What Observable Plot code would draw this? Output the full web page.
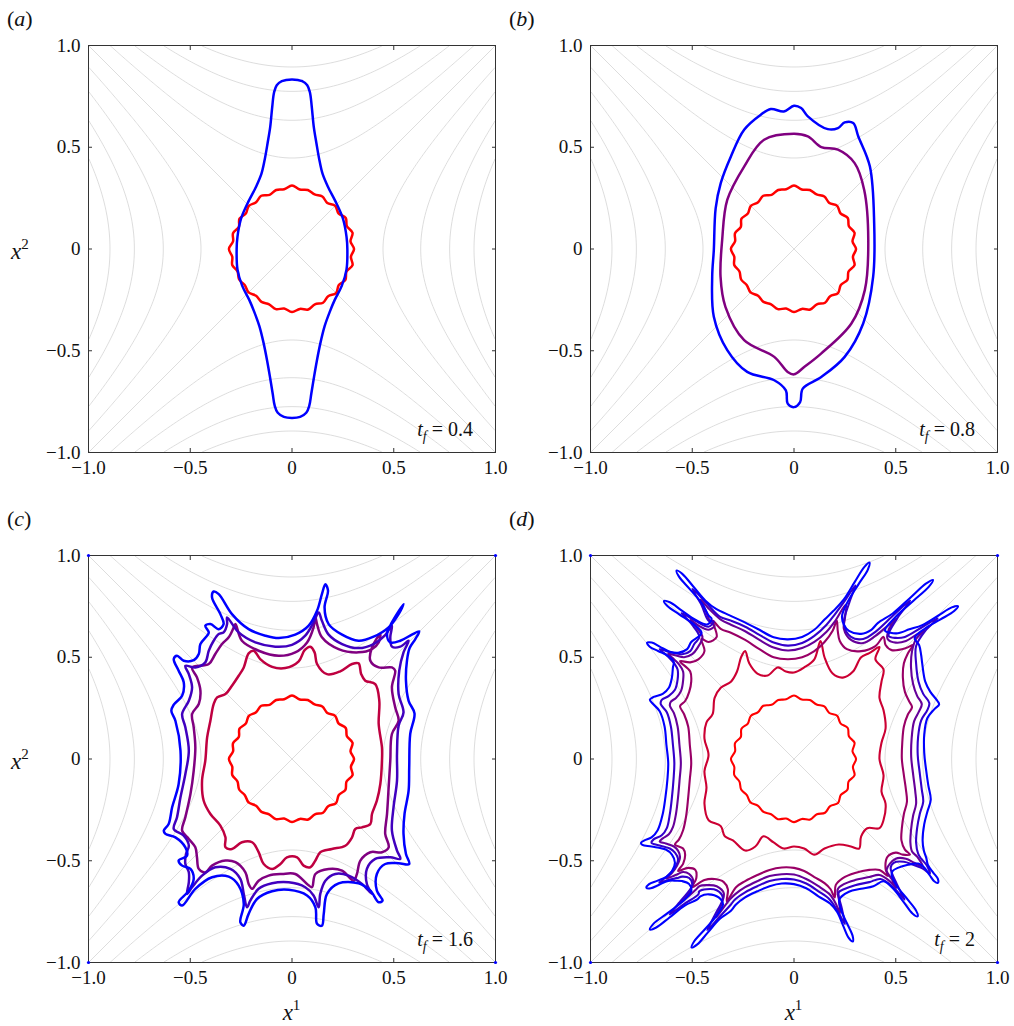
<!DOCTYPE html>
<html><head><meta charset="utf-8">
<script src="https://cdn.jsdelivr.net/npm/d3@7"></script>
<script src="https://cdn.jsdelivr.net/npm/@observablehq/plot@0.6"></script>
<style>
body{margin:0;background:#fff;}
#wrap{position:relative;width:1014px;height:1026px;overflow:hidden;}
#wrap svg{position:absolute;overflow:visible;}
#wrap svg, #wrap svg text{font-family:"Liberation Serif","Times New Roman",serif !important;}
</style></head><body><div id="wrap"></div>
<script>
// ---------- data ----------
const tickValues = [-1, -0.5, 0, 0.5, 1];
const tickLabels = ["−1.0", "−0.5", "0", "0.5", "1.0"];
const streamLevels = [-0.8, -0.6, -0.4, -0.2, 0, 0.2, 0.4, 0.6, 0.8];
const panelLetters = ["a", "b", "c", "d"];
const finalTimes = ["0.4", "0.8", "1.6", "2"];
const frameCorners = [[-1, 1], [1, 1], [-1, -1], [1, -1]];

// initial (red) contour, polar form: angle (deg) and radius
const redAngles = [0,7.5,15,22.5,30,37.5,45,52.5,60,67.5,75,82.5,90,97.5,105,112.5,120,127.5,135,142.5,150,157.5,165,172.5,180,187.5,195,202.5,210,217.5,225,232.5,240,247.5,255,262.5,270,277.5,285,292.5,300,307.5,315,322.5,330,337.5,345,352.5];
const redRadii = [0.305,0.290,0.308,0.292,0.305,0.288,0.300,0.285,0.298,0.290,0.300,0.295,0.312,0.296,0.300,0.288,0.302,0.290,0.300,0.286,0.298,0.283,0.300,0.292,0.310,0.296,0.304,0.290,0.300,0.292,0.302,0.290,0.300,0.294,0.306,0.295,0.310,0.297,0.308,0.294,0.305,0.292,0.306,0.290,0.303,0.290,0.308,0.292];

// panel (a), t = 0.4
const blueA = [[0,0.833],[0.05,0.825],[0.075,0.805],[0.088,0.77],[0.097,0.70],[0.107,0.60],[0.120,0.52],[0.134,0.44],[0.150,0.37],[0.176,0.307],[0.218,0.225],[0.250,0.15],[0.268,0.06],[0.272,0.0],[0.268,-0.10],[0.245,-0.18],[0.210,-0.25],[0.185,-0.31],[0.160,-0.38],[0.140,-0.46],[0.122,-0.55],[0.108,-0.63],[0.095,-0.71],[0.085,-0.77],[0.07,-0.805],[0.04,-0.825],[0,-0.83],[-0.04,-0.825],[-0.07,-0.805],[-0.085,-0.77],[-0.095,-0.71],[-0.108,-0.63],[-0.122,-0.55],[-0.140,-0.46],[-0.160,-0.38],[-0.185,-0.31],[-0.210,-0.25],[-0.245,-0.18],[-0.268,-0.10],[-0.272,0.0],[-0.268,0.06],[-0.250,0.15],[-0.218,0.225],[-0.176,0.307],[-0.150,0.37],[-0.134,0.44],[-0.120,0.52],[-0.107,0.60],[-0.097,0.70],[-0.088,0.77],[-0.075,0.805],[-0.05,0.825]];

// panel (b), t = 0.4 and 0.8
const purpleB = [[0,0.566],[-0.147,0.537],[-0.245,0.405],[-0.328,0.241],[-0.353,0.044],[-0.361,-0.136],[-0.337,-0.284],[-0.245,-0.448],[-0.097,-0.53],[-0.031,-0.604],[0,-0.616],[0.05,-0.58],[0.133,-0.514],[0.282,-0.366],[0.348,-0.202],[0.365,0.044],[0.345,0.29],[0.298,0.422],[0.216,0.488],[0.134,0.501],[0.068,0.553]];
const blueB = [[0,0.704],[-0.05,0.676],[-0.114,0.688],[-0.163,0.66],[-0.245,0.586],[-0.31,0.455],[-0.36,0.324],[-0.385,0.2],[-0.394,-0.005],[-0.402,-0.136],[-0.394,-0.333],[-0.328,-0.497],[-0.23,-0.604],[-0.097,-0.645],[-0.04,-0.695],[-0.031,-0.76],[0,-0.777],[0.03,-0.752],[0.043,-0.686],[0.134,-0.629],[0.249,-0.53],[0.34,-0.366],[0.389,-0.136],[0.394,0.126],[0.373,0.405],[0.316,0.553],[0.291,0.619],[0.249,0.622],[0.216,0.594],[0.166,0.589],[0.068,0.652],[0.035,0.693]];

// panel (c), t = 0.4, 0.8, 1.2, 1.6
const c1 = [[-0.237,0.450],[-0.213,0.519],[-0.188,0.532],[-0.156,0.491],[-0.098,0.453],[-0.033,0.447],[0.033,0.480],[0.062,0.535],[0.090,0.552],[0.111,0.524],[0.123,0.467],[0.172,0.417],[0.237,0.431],[0.295,0.467],[0.327,0.470],[0.340,0.417],[0.360,0.385],[0.409,0.368],[0.429,0.286],[0.426,0.172],[0.442,0.057],[0.442,-0.008],[0.434,-0.123],[0.417,-0.205],[0.393,-0.270],[0.385,-0.319],[0.344,-0.336],[0.311,-0.344],[0.295,-0.385],[0.262,-0.426],[0.196,-0.442],[0.139,-0.458],[0.115,-0.499],[0.090,-0.532],[0.057,-0.524],[0.025,-0.483],[-0.025,-0.483],[-0.057,-0.516],[-0.098,-0.540],[-0.139,-0.516],[-0.164,-0.458],[-0.196,-0.409],[-0.246,-0.409],[-0.295,-0.442],[-0.327,-0.434],[-0.327,-0.385],[-0.352,-0.327],[-0.401,-0.270],[-0.434,-0.205],[-0.442,-0.106],[-0.426,-0.008],[-0.417,0.106],[-0.401,0.188],[-0.385,0.270],[-0.368,0.303],[-0.327,0.319],[-0.295,0.360],[-0.262,0.409]];
const c2 = [[-0.278,0.663],[-0.246,0.581],[-0.164,0.532],[-0.065,0.507],[0.016,0.524],[0.074,0.573],[0.106,0.647],[0.115,0.696],[0.123,0.663],[0.147,0.598],[0.229,0.540],[0.327,0.524],[0.393,0.540],[0.426,0.573],[0.434,0.614],[0.393,0.548],[0.385,0.483],[0.426,0.450],[0.491,0.450],[0.507,0.434],[0.491,0.352],[0.507,0.254],[0.524,0.188],[0.491,0.123],[0.483,-0.008],[0.475,-0.139],[0.467,-0.270],[0.458,-0.368],[0.475,-0.434],[0.442,-0.458],[0.385,-0.458],[0.336,-0.499],[0.319,-0.565],[0.303,-0.598],[0.246,-0.548],[0.180,-0.540],[0.115,-0.565],[0.098,-0.630],[0.074,-0.614],[0.016,-0.565],[-0.049,-0.565],[-0.115,-0.573],[-0.164,-0.598],[-0.196,-0.638],[-0.213,-0.614],[-0.229,-0.557],[-0.278,-0.507],[-0.327,-0.499],[-0.393,-0.524],[-0.426,-0.557],[-0.458,-0.540],[-0.467,-0.483],[-0.475,-0.434],[-0.507,-0.393],[-0.540,-0.352],[-0.524,-0.286],[-0.499,-0.172],[-0.483,-0.057],[-0.475,0.057],[-0.483,0.156],[-0.491,0.221],[-0.458,0.270],[-0.450,0.336],[-0.467,0.401],[-0.491,0.450],[-0.409,0.467],[-0.377,0.516],[-0.344,0.565],[-0.311,0.598],[-0.286,0.647]];
const c3 = [[0.000,0.561],[0.065,0.606],[0.106,0.671],[0.131,0.720],[0.147,0.679],[0.180,0.611],[0.246,0.565],[0.327,0.545],[0.401,0.565],[0.458,0.609],[0.491,0.655],[0.483,0.598],[0.491,0.552],[0.532,0.552],[0.573,0.581],[0.548,0.524],[0.527,0.434],[0.524,0.319],[0.548,0.229],[0.524,0.164],[0.516,0.025],[0.516,-0.106],[0.499,-0.237],[0.491,-0.352],[0.516,-0.450],[0.532,-0.491],[0.483,-0.483],[0.409,-0.491],[0.368,-0.540],[0.368,-0.614],[0.393,-0.663],[0.344,-0.614],[0.278,-0.573],[0.213,-0.565],[0.164,-0.598],[0.139,-0.663],[0.131,-0.729],[0.106,-0.671],[0.065,-0.630],[-0.016,-0.606],[-0.098,-0.611],[-0.164,-0.638],[-0.205,-0.696],[-0.221,-0.729],[-0.237,-0.663],[-0.254,-0.589],[-0.303,-0.540],[-0.377,-0.532],[-0.442,-0.573],[-0.491,-0.630],[-0.516,-0.663],[-0.507,-0.606],[-0.507,-0.557],[-0.524,-0.516],[-0.521,-0.467],[-0.507,-0.426],[-0.532,-0.377],[-0.581,-0.344],[-0.565,-0.286],[-0.548,-0.188],[-0.524,-0.074],[-0.507,0.041],[-0.524,0.156],[-0.540,0.221],[-0.507,0.286],[-0.491,0.352],[-0.507,0.417],[-0.524,0.458],[-0.475,0.450],[-0.426,0.475],[-0.409,0.532],[-0.385,0.581],[-0.360,0.614],[-0.336,0.622],[-0.319,0.663],[-0.319,0.696],[-0.262,0.622],[-0.180,0.573],[-0.082,0.552]];
const c4 = [[0.164,0.859],[0.177,0.827],[0.160,0.745],[0.180,0.663],[0.246,0.611],[0.327,0.581],[0.401,0.601],[0.475,0.647],[0.524,0.712],[0.548,0.761],[0.491,0.671],[0.467,0.614],[0.483,0.573],[0.532,0.581],[0.589,0.611],[0.625,0.627],[0.606,0.589],[0.578,0.545],[0.565,0.483],[0.560,0.385],[0.573,0.286],[0.602,0.224],[0.581,0.123],[0.576,-0.041],[0.573,-0.156],[0.553,-0.270],[0.548,-0.368],[0.560,-0.467],[0.576,-0.516],[0.524,-0.512],[0.458,-0.516],[0.417,-0.565],[0.417,-0.647],[0.445,-0.696],[0.426,-0.704],[0.385,-0.647],[0.327,-0.611],[0.229,-0.611],[0.172,-0.663],[0.156,-0.761],[0.147,-0.819],[0.123,-0.810],[0.115,-0.729],[0.074,-0.671],[-0.016,-0.643],[-0.098,-0.650],[-0.172,-0.688],[-0.213,-0.761],[-0.237,-0.819],[-0.254,-0.802],[-0.237,-0.712],[-0.262,-0.622],[-0.311,-0.578],[-0.393,-0.581],[-0.475,-0.638],[-0.540,-0.720],[-0.557,-0.704],[-0.507,-0.647],[-0.483,-0.589],[-0.499,-0.540],[-0.540,-0.524],[-0.557,-0.499],[-0.516,-0.475],[-0.524,-0.434],[-0.573,-0.385],[-0.622,-0.368],[-0.630,-0.352],[-0.606,-0.319],[-0.589,-0.237],[-0.557,-0.123],[-0.548,0.041],[-0.573,0.188],[-0.593,0.237],[-0.581,0.267],[-0.540,0.311],[-0.532,0.377],[-0.557,0.434],[-0.581,0.491],[-0.565,0.507],[-0.532,0.483],[-0.483,0.486],[-0.458,0.516],[-0.450,0.565],[-0.417,0.606],[-0.409,0.622],[-0.426,0.655],[-0.401,0.663],[-0.360,0.638],[-0.336,0.663],[-0.352,0.712],[-0.393,0.794],[-0.385,0.823],[-0.360,0.810],[-0.295,0.712],[-0.213,0.638],[-0.131,0.606],[-0.065,0.594],[0.016,0.611],[0.082,0.655],[0.123,0.728],[0.147,0.810]];

// panel (d), t = 0.4, 0.8, 1.2, 1.6, 2.0
const d1 = [[0.0,0.425],[0.05,0.45],[0.10,0.49],[0.13,0.58],[0.15,0.50],[0.19,0.42],[0.24,0.40],[0.29,0.43],[0.33,0.50],[0.37,0.52],[0.42,0.55],[0.40,0.49],[0.44,0.44],[0.43,0.38],[0.42,0.30],[0.44,0.24],[0.45,0.15],[0.43,0.08],[0.42,0.00],[0.44,-0.08],[0.43,-0.16],[0.45,-0.22],[0.44,-0.30],[0.42,-0.34],[0.36,-0.34],[0.33,-0.38],[0.32,-0.44],[0.28,-0.43],[0.22,-0.42],[0.15,-0.44],[0.10,-0.47],[0.05,-0.44],[0.0,-0.43],[-0.05,-0.44],[-0.10,-0.41],[-0.15,-0.38],[-0.19,-0.43],[-0.24,-0.45],[-0.30,-0.40],[-0.34,-0.38],[-0.36,-0.33],[-0.42,-0.30],[-0.44,-0.22],[-0.43,-0.14],[-0.44,-0.06],[-0.42,0.02],[-0.44,0.10],[-0.43,0.18],[-0.40,0.22],[-0.39,0.30],[-0.36,0.35],[-0.31,0.38],[-0.28,0.43],[-0.26,0.50],[-0.24,0.53],[-0.22,0.47],[-0.18,0.42],[-0.13,0.41],[-0.08,0.45],[-0.04,0.43]];
const d2 = [[-0.10,0.50],[-0.03,0.49],[0.04,0.50],[0.10,0.53],[0.15,0.575],[0.19,0.63],[0.21,0.68],[0.215,0.63],[0.225,0.58],[0.26,0.54],[0.33,0.53],[0.40,0.555],[0.44,0.60],[0.45,0.56],[0.48,0.535],[0.55,0.545],[0.585,0.56],[0.56,0.52],[0.54,0.47],[0.535,0.40],[0.545,0.33],[0.565,0.285],[0.58,0.255],[0.56,0.22],[0.54,0.16],[0.532,0.08],[0.53,0.00],[0.54,-0.08],[0.55,-0.15],[0.555,-0.21],[0.54,-0.27],[0.53,-0.34],[0.528,-0.40],[0.545,-0.445],[0.57,-0.47],[0.535,-0.47],[0.50,-0.46],[0.46,-0.48],[0.45,-0.54],[0.462,-0.575],[0.42,-0.545],[0.37,-0.545],[0.30,-0.56],[0.24,-0.585],[0.205,-0.62],[0.20,-0.68],[0.18,-0.64],[0.15,-0.61],[0.10,-0.58],[0.05,-0.55],[0.00,-0.535],[-0.06,-0.533],[-0.12,-0.545],[-0.18,-0.57],[-0.24,-0.60],[-0.285,-0.63],[-0.33,-0.70],[-0.325,-0.64],[-0.345,-0.605],[-0.39,-0.59],[-0.44,-0.595],[-0.50,-0.63],[-0.48,-0.585],[-0.485,-0.545],[-0.52,-0.535],[-0.57,-0.55],[-0.545,-0.515],[-0.535,-0.47],[-0.545,-0.44],[-0.585,-0.42],[-0.565,-0.395],[-0.545,-0.35],[-0.53,-0.28],[-0.52,-0.19],[-0.512,-0.10],[-0.505,-0.02],[-0.512,0.07],[-0.52,0.16],[-0.54,0.22],[-0.56,0.26],[-0.535,0.285],[-0.515,0.33],[-0.505,0.38],[-0.51,0.43],[-0.56,0.48],[-0.51,0.475],[-0.47,0.49],[-0.44,0.53],[-0.455,0.59],[-0.42,0.575],[-0.38,0.60],[-0.40,0.68],[-0.36,0.64],[-0.31,0.62],[-0.24,0.585],[-0.17,0.54]];
const d3c = [[-0.10,0.548],[-0.03,0.533],[0.04,0.545],[0.10,0.575],[0.16,0.625],[0.20,0.675],[0.255,0.758],[0.25,0.69],[0.245,0.64],[0.28,0.585],[0.34,0.57],[0.40,0.605],[0.455,0.65],[0.50,0.688],[0.465,0.635],[0.46,0.59],[0.50,0.572],[0.55,0.58],[0.60,0.61],[0.642,0.632],[0.60,0.59],[0.58,0.53],[0.575,0.45],[0.585,0.37],[0.605,0.31],[0.628,0.27],[0.615,0.235],[0.59,0.185],[0.578,0.10],[0.576,0.01],[0.586,-0.08],[0.596,-0.16],[0.600,-0.22],[0.585,-0.28],[0.575,-0.35],[0.572,-0.41],[0.58,-0.455],[0.605,-0.48],[0.632,-0.528],[0.59,-0.51],[0.55,-0.49],[0.50,-0.49],[0.455,-0.545],[0.48,-0.59],[0.503,-0.633],[0.47,-0.60],[0.42,-0.57],[0.37,-0.58],[0.30,-0.595],[0.245,-0.615],[0.215,-0.64],[0.222,-0.70],[0.226,-0.758],[0.205,-0.71],[0.175,-0.665],[0.12,-0.625],[0.06,-0.59],[0.00,-0.568],[-0.06,-0.566],[-0.12,-0.575],[-0.18,-0.60],[-0.24,-0.63],[-0.29,-0.665],[-0.315,-0.69],[-0.35,-0.735],[-0.383,-0.778],[-0.365,-0.735],[-0.345,-0.66],[-0.38,-0.625],[-0.43,-0.62],[-0.465,-0.625],[-0.48,-0.64],[-0.52,-0.675],[-0.563,-0.712],[-0.525,-0.67],[-0.495,-0.60],[-0.515,-0.565],[-0.545,-0.555],[-0.57,-0.565],[-0.60,-0.578],[-0.628,-0.587],[-0.60,-0.56],[-0.575,-0.525],[-0.56,-0.48],[-0.57,-0.45],[-0.59,-0.43],[-0.63,-0.415],[-0.66,-0.405],[-0.645,-0.39],[-0.615,-0.37],[-0.595,-0.335],[-0.58,-0.27],[-0.57,-0.19],[-0.562,-0.10],[-0.556,-0.02],[-0.563,0.07],[-0.572,0.16],[-0.59,0.225],[-0.61,0.262],[-0.605,0.282],[-0.58,0.30],[-0.555,0.335],[-0.545,0.385],[-0.545,0.43],[-0.565,0.465],[-0.59,0.49],[-0.618,0.517],[-0.585,0.51],[-0.54,0.50],[-0.50,0.515],[-0.475,0.545],[-0.45,0.60],[-0.475,0.64],[-0.508,0.683],[-0.468,0.655],[-0.42,0.635],[-0.39,0.655],[-0.41,0.67],[-0.43,0.72],[-0.458,0.783],[-0.42,0.74],[-0.36,0.685],[-0.31,0.66],[-0.24,0.628],[-0.17,0.585]];
const d4 = [[-0.10,0.572],[-0.03,0.557],[0.04,0.57],[0.10,0.605],[0.16,0.66],[0.20,0.71],[0.252,0.781],[0.302,0.853],[0.272,0.769],[0.245,0.665],[0.28,0.60],[0.34,0.59],[0.40,0.625],[0.491,0.709],[0.571,0.778],[0.507,0.691],[0.465,0.605],[0.50,0.595],[0.545,0.60],[0.633,0.65],[0.706,0.691],[0.645,0.63],[0.60,0.555],[0.60,0.47],[0.612,0.38],[0.635,0.32],[0.665,0.275],[0.655,0.24],[0.625,0.19],[0.61,0.11],[0.608,0.02],[0.618,-0.07],[0.628,-0.15],[0.635,-0.21],[0.618,-0.27],[0.605,-0.34],[0.600,-0.41],[0.61,-0.465],[0.625,-0.49],[0.652,-0.522],[0.667,-0.563],[0.635,-0.54],[0.585,-0.52],[0.54,-0.505],[0.49,-0.51],[0.475,-0.535],[0.506,-0.616],[0.543,-0.691],[0.488,-0.630],[0.425,-0.59],[0.37,-0.605],[0.30,-0.62],[0.245,-0.64],[0.22,-0.655],[0.235,-0.735],[0.25,-0.81],[0.213,-0.745],[0.175,-0.69],[0.12,-0.65],[0.06,-0.612],[0.00,-0.592],[-0.06,-0.59],[-0.12,-0.60],[-0.18,-0.625],[-0.24,-0.655],[-0.29,-0.69],[-0.31,-0.715],[-0.368,-0.778],[-0.426,-0.84],[-0.386,-0.762],[-0.35,-0.68],[-0.38,-0.645],[-0.43,-0.64],[-0.465,-0.65],[-0.47,-0.665],[-0.542,-0.714],[-0.611,-0.764],[-0.556,-0.696],[-0.50,-0.62],[-0.515,-0.585],[-0.55,-0.578],[-0.575,-0.585],[-0.613,-0.593],[-0.662,-0.608],[-0.621,-0.574],[-0.585,-0.535],[-0.57,-0.49],[-0.585,-0.46],[-0.61,-0.44],[-0.66,-0.425],[-0.70,-0.412],[-0.69,-0.395],[-0.65,-0.375],[-0.625,-0.34],[-0.61,-0.27],[-0.60,-0.19],[-0.592,-0.10],[-0.588,-0.02],[-0.595,0.07],[-0.605,0.16],[-0.625,0.23],[-0.655,0.27],[-0.65,0.29],[-0.615,0.31],[-0.585,0.34],[-0.572,0.39],[-0.572,0.44],[-0.585,0.465],[-0.618,0.503],[-0.66,0.54],[-0.608,0.525],[-0.55,0.515],[-0.51,0.53],[-0.49,0.565],[-0.465,0.60],[-0.501,0.66],[-0.552,0.717],[-0.487,0.68],[-0.42,0.65],[-0.395,0.675],[-0.42,0.68],[-0.455,0.758],[-0.499,0.836],[-0.437,0.774],[-0.365,0.70],[-0.31,0.68],[-0.24,0.65],[-0.17,0.61]];
const d5 = [[-0.10,0.598],[-0.03,0.588],[0.04,0.600],[0.10,0.635],[0.15,0.685],[0.194,0.728],[0.244,0.783],[0.298,0.869],[0.345,0.943],[0.371,0.965],[0.363,0.931],[0.316,0.857],[0.263,0.771],[0.236,0.702],[0.245,0.66],[0.27,0.63],[0.33,0.615],[0.38,0.635],[0.413,0.669],[0.485,0.715],[0.573,0.794],[0.648,0.862],[0.683,0.880],[0.662,0.846],[0.587,0.778],[0.500,0.699],[0.447,0.632],[0.475,0.62],[0.51,0.618],[0.567,0.637],[0.630,0.658],[0.708,0.704],[0.775,0.745],[0.806,0.751],[0.787,0.727],[0.720,0.686],[0.642,0.640],[0.593,0.594],[0.615,0.56],[0.625,0.51],[0.63,0.47],[0.645,0.38],[0.67,0.33],[0.705,0.285],[0.713,0.268],[0.69,0.245],[0.655,0.20],[0.64,0.12],[0.64,0.03],[0.65,-0.06],[0.66,-0.13],[0.672,-0.20],[0.655,-0.26],[0.64,-0.32],[0.632,-0.40],[0.638,-0.45],[0.650,-0.486],[0.658,-0.521],[0.684,-0.558],[0.707,-0.589],[0.707,-0.609],[0.689,-0.601],[0.666,-0.570],[0.640,-0.533],[0.610,-0.514],[0.56,-0.52],[0.51,-0.535],[0.485,-0.55],[0.480,-0.570],[0.505,-0.624],[0.557,-0.689],[0.600,-0.745],[0.608,-0.773],[0.582,-0.759],[0.539,-0.703],[0.488,-0.638],[0.440,-0.601],[0.39,-0.625],[0.33,-0.638],[0.27,-0.652],[0.223,-0.690],[0.232,-0.744],[0.262,-0.811],[0.288,-0.869],[0.289,-0.897],[0.268,-0.878],[0.242,-0.820],[0.212,-0.752],[0.177,-0.710],[0.12,-0.675],[0.06,-0.635],[0.00,-0.615],[-0.06,-0.612],[-0.12,-0.625],[-0.18,-0.65],[-0.24,-0.68],[-0.285,-0.715],[-0.311,-0.747],[-0.364,-0.785],[-0.424,-0.853],[-0.475,-0.911],[-0.503,-0.926],[-0.491,-0.897],[-0.440,-0.839],[-0.381,-0.771],[-0.349,-0.714],[-0.37,-0.68],[-0.42,-0.665],[-0.46,-0.675],[-0.475,-0.690],[-0.537,-0.720],[-0.612,-0.779],[-0.677,-0.828],[-0.708,-0.838],[-0.691,-0.810],[-0.626,-0.761],[-0.551,-0.703],[-0.505,-0.650],[-0.515,-0.615],[-0.55,-0.60],[-0.580,-0.598],[-0.619,-0.599],[-0.665,-0.619],[-0.704,-0.635],[-0.725,-0.633],[-0.712,-0.615],[-0.673,-0.599],[-0.627,-0.579],[-0.600,-0.552],[-0.585,-0.51],[-0.60,-0.47],[-0.63,-0.445],[-0.70,-0.430],[-0.745,-0.422],[-0.752,-0.412],[-0.735,-0.400],[-0.70,-0.385],[-0.67,-0.35],[-0.645,-0.27],[-0.632,-0.19],[-0.622,-0.10],[-0.618,-0.02],[-0.627,0.07],[-0.636,0.16],[-0.66,0.235],[-0.700,0.278],[-0.708,0.292],[-0.69,0.305],[-0.645,0.32],[-0.615,0.35],[-0.60,0.40],[-0.595,0.45],[-0.591,0.478],[-0.619,0.507],[-0.668,0.531],[-0.709,0.552],[-0.722,0.571],[-0.699,0.572],[-0.658,0.551],[-0.610,0.527],[-0.569,0.522],[-0.525,0.54],[-0.505,0.575],[-0.454,0.619],[-0.495,0.664],[-0.564,0.711],[-0.622,0.752],[-0.639,0.776],[-0.610,0.770],[-0.551,0.729],[-0.483,0.683],[-0.426,0.661],[-0.405,0.69],[-0.419,0.704],[-0.452,0.764],[-0.512,0.835],[-0.565,0.896],[-0.577,0.926],[-0.549,0.910],[-0.496,0.849],[-0.435,0.778],[-0.381,0.736],[-0.33,0.712],[-0.26,0.68],[-0.18,0.64]];

// ---------- drawing ----------
const redCurve = redAngles.map((a, i) => [redRadii[i] * Math.cos(a * Math.PI / 180), redRadii[i] * Math.sin(a * Math.PI / 180)]);
const panels = [
  {curves: [redCurve, blueA], left: 0, top: 0, ylab: true, xlab: false, dots: false, letterY: 26},
  {curves: [redCurve, purpleB, blueB], left: 502, top: 0, ylab: false, xlab: false, dots: false, letterY: 26},
  {curves: [redCurve, c1, c2, c3, c4], left: 0, top: 510, ylab: true, xlab: true, dots: true, letterY: 16},
  {curves: [redCurve, d1, d2, d3c, d4, d5], left: 502, top: 510, ylab: false, xlab: true, dots: true, letterY: 16}
];
const W = 507, H = 516, ML = 88, MT = 45, MR = 12, MB = 64;
const fmt = v => tickLabels[tickValues.indexOf(v)];
const wrap = document.getElementById("wrap");
const NS = "http://www.w3.org/2000/svg";
const FF = "Liberation Serif, Times New Roman, serif";
function mix(t) { // red -> blue
  const r = Math.round(255 * (1 - t)), b = Math.round(255 * t);
  return `rgb(${r},0,${b})`;
}
function el(parent, tag, attrs, text) {
  const e = document.createElementNS(NS, tag);
  for (const k in attrs) e.setAttribute(k, attrs[k]);
  if (text != null) e.textContent = text;
  parent.appendChild(e);
  return e;
}

panels.forEach((p, k) => {
  const n = p.curves.length;
  const marks = [
    Plot.contour({value: (x, y) => x * x - y * y, x1: -1, x2: 1, y1: -1, y2: 1, thresholds: streamLevels, fill: "none", stroke: "#d9d9d9", strokeWidth: 0.9, pixelSize: 1}),
    ...p.curves.map((pts, i) => Plot.line(pts, {x: d => d[0], y: d => d[1], curve: "catmull-rom-closed", stroke: mix(i / (n - 1)), strokeWidth: k === 3 ? 2.1 : 2.5})),
    Plot.frame({stroke: "#333", strokeWidth: 1}),
    Plot.axisX(tickValues, {anchor: "bottom", tickSize: 4, dy: -4, tickFormat: () => "", label: null, stroke: "#333"}),
    Plot.axisX(tickValues, {anchor: "top", tickSize: 4, dy: 4, tickFormat: () => "", label: null, stroke: "#333"}),
    Plot.axisY(tickValues, {anchor: "left", tickSize: 4, dx: 4, tickFormat: () => "", label: null, stroke: "#333"}),
    Plot.axisY(tickValues, {anchor: "right", tickSize: 4, dx: -4, tickFormat: () => "", label: null, stroke: "#333"}),
    Plot.axisX(tickValues, {anchor: "bottom", tickSize: 0, tickPadding: 8, tickFormat: fmt, label: null}),
    Plot.axisY(tickValues, {anchor: "left", tickSize: 0, tickPadding: 8, tickFormat: fmt, label: null})
  ];
  if (p.dots) marks.push(Plot.dot(frameCorners, {x: d => d[0], y: d => d[1], r: 1.6, fill: "#0000ff", stroke: null}));
  const svg = Plot.plot({
    width: W, height: H, marginLeft: ML, marginTop: MT, marginRight: MR, marginBottom: MB,
    x: {domain: [-1, 1]}, y: {domain: [-1, 1]},
    style: {fontFamily: FF, fontSize: "19px", color: "#111", background: "transparent", overflow: "visible"},
    marks
  });
  svg.style.left = p.left + "px";
  svg.style.top = p.top + "px";
  wrap.appendChild(svg);
  // panel letter
  const lt = el(svg, "text", {x: 7, y: p.letterY, "text-anchor": "start", "font-family": FF, "font-size": 22, fill: "#111"});
  el(lt, "tspan", {}, "(");
  el(lt, "tspan", {"font-style": "italic"}, panelLetters[k]);
  el(lt, "tspan", {}, ")");
  // final time label
  const tt = el(svg, "text", {x: ML + 407 - 22, y: MT + 407 - 16, "text-anchor": "end", "font-family": FF, "font-size": 20, fill: "#111"});
  el(tt, "tspan", {"font-style": "italic"}, "t");
  el(tt, "tspan", {"font-style": "italic", "font-size": 14, dy: 5}, "f");
  el(tt, "tspan", {dy: -5}, "\u00a0=\u00a0" + finalTimes[k]);
  if (p.ylab) {
    const yl = el(svg, "text", {x: 11, y: 259, "text-anchor": "start", "font-family": FF, "font-size": 23, fill: "#111"});
    el(yl, "tspan", {"font-style": "italic"}, "x");
    el(yl, "tspan", {"font-size": 15, dy: -10}, "2");
  }
  if (p.xlab) {
    const xl = el(svg, "text", {x: ML + 203.5, y: 510, "text-anchor": "middle", "font-family": FF, "font-size": 23, fill: "#111"});
    el(xl, "tspan", {"font-style": "italic"}, "x");
    el(xl, "tspan", {"font-size": 15, dy: -10}, "1");
  }
});
</script></body></html>
